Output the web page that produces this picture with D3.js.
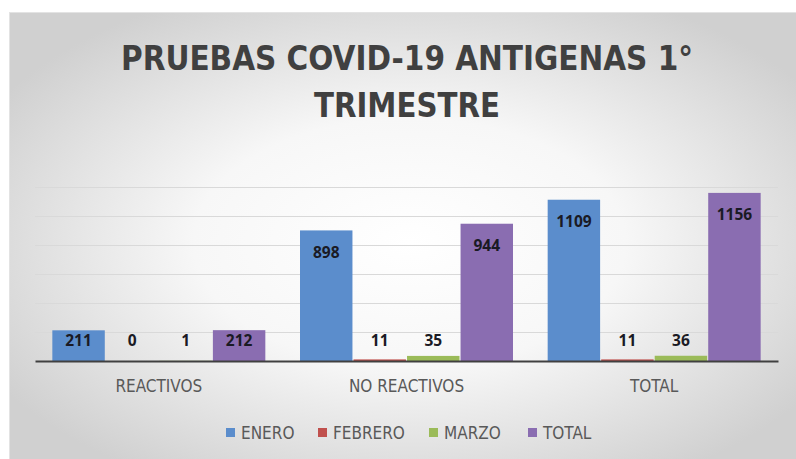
<!DOCTYPE html>
<html>
<head>
<meta charset="utf-8">
<script src="https://cdn.jsdelivr.net/npm/d3@7"></script>
<style>
  html, body { margin: 0; padding: 0; background: #ffffff; }
  svg { display: block; }
</style>
</head>
<body>
<svg id="chart" width="796" height="459"></svg>
<script>
const titleLines = ["PRUEBAS COVID-19 ANTIGENAS 1°", "TRIMESTRE"];
const categories = ["REACTIVOS", "NO REACTIVOS", "TOTAL"];
const seriesNames = ["ENERO", "FEBRERO", "MARZO", "TOTAL"];
const seriesColors = ["#5b8dcc", "#c0504d", "#9bbb59", "#8a6db1"];
const enero = [211, 898, 1109];
const febrero = [0, 11, 11];
const marzo = [1, 35, 36];
const total = [212, 944, 1156];
const yTicks = [0, 200, 400, 600, 800, 1000, 1200];

const seriesValues = [enero, febrero, marzo, total];
const narrow = "'Liberation Sans Narrow', 'DejaVu Sans Condensed', 'Open Sans', sans-serif";
const body = "'Open Sans', 'Liberation Sans', sans-serif";

const svg = d3.select("#chart");

// Background with radial gradient
const defs = svg.append("defs");
const grad = defs.append("radialGradient")
  .attr("id", "bg").attr("cx", "50%").attr("cy", "50%").attr("r", "60%");
grad.append("stop").attr("offset", "0%").attr("stop-color", "#ffffff");
grad.append("stop").attr("offset", "45%").attr("stop-color", "#f7f7f7");
grad.append("stop").attr("offset", "100%").attr("stop-color", "#d0d0d0");

svg.append("rect")
  .attr("x", 9.5).attr("y", 12.5).attr("width", 800).attr("height", 460)
  .attr("fill", "url(#bg)").attr("stroke", "#e3e3e3");

// Title
svg.append("g").selectAll("text").data(titleLines).join("text")
  .attr("x", 407)
  .attr("y", (d, i) => 70 + i * 47)
  .attr("text-anchor", "middle")
  .attr("font-family", narrow)
  .attr("font-weight", "bold")
  .attr("font-size", 34)
  .attr("fill", "#404040")
  .attr("textLength", (d, i) => i === 0 ? 572 : 186)
  .attr("lengthAdjust", "spacingAndGlyphs")
  .text(d => d);

// Scales
const x0 = d3.scaleBand().domain(categories).range([35, 778])
  .paddingInner(0.14).paddingOuter(0.07);
const x1 = d3.scaleBand().domain(seriesNames).range([0, x0.bandwidth()])
  .paddingInner(0.02);
const y = d3.scaleLinear().domain([0, 1200]).range([361, 186.5]);

// Gridlines
svg.append("g").selectAll("line").data(yTicks.filter(t => t > 0)).join("line")
  .attr("x1", 35).attr("x2", 778)
  .attr("y1", d => Math.round(y(d)) + 0.5).attr("y2", d => Math.round(y(d)) + 0.5)
  .attr("stroke", "#d9d9d9").attr("stroke-width", 1);

// Bars
const rows = [];
categories.forEach((c, ci) => {
  seriesNames.forEach((s, si) => {
    rows.push({ cat: c, series: s, value: seriesValues[si][ci], color: seriesColors[si] });
  });
});

svg.append("g").selectAll("rect").data(rows).join("rect")
  .attr("x", d => x0(d.cat) + x1(d.series))
  .attr("y", d => y(d.value))
  .attr("width", x1.bandwidth())
  .attr("height", d => y(0) - y(d.value))
  .attr("fill", d => d.color);

// Baseline axis
const xAxis = d3.axisBottom(x0).tickSize(0).tickPadding(19);
const ax = svg.append("g").attr("transform", `translate(0,${y(0)})`).call(xAxis);
ax.select(".domain").attr("stroke", "#404040").attr("stroke-width", 2.2);
ax.selectAll("text")
  .attr("font-family", narrow)
  .attr("font-size", 17)
  .attr("fill", "#595959");

// Data labels
svg.append("g").selectAll("text").data(rows).join("text")
  .attr("x", d => x0(d.cat) + x1(d.series) + x1.bandwidth() / 2)
  .attr("y", d => Math.min(y(d.value) + 22, 340))
  .attr("dy", "0.36em")
  .attr("text-anchor", "middle")
  .attr("font-family", body)
  .attr("font-weight", "bold")
  .attr("font-size", 15.5)
  .attr("fill", "#1a1a24")
  .text(d => d.value);

// Legend
const legendX = [226, 318, 429, 528];
const lg = svg.append("g").selectAll("g").data(seriesNames).join("g")
  .attr("transform", (d, i) => `translate(${legendX[i]},428)`);
lg.append("rect").attr("width", 9).attr("height", 9)
  .attr("fill", (d, i) => seriesColors[i]);
lg.append("text").attr("x", 15).attr("y", 4.5).attr("dy", "0.36em")
  .attr("font-family", narrow)
  .attr("font-size", 17)
  .attr("fill", "#595959")
  .text(d => d);
</script>
</body>
</html>
